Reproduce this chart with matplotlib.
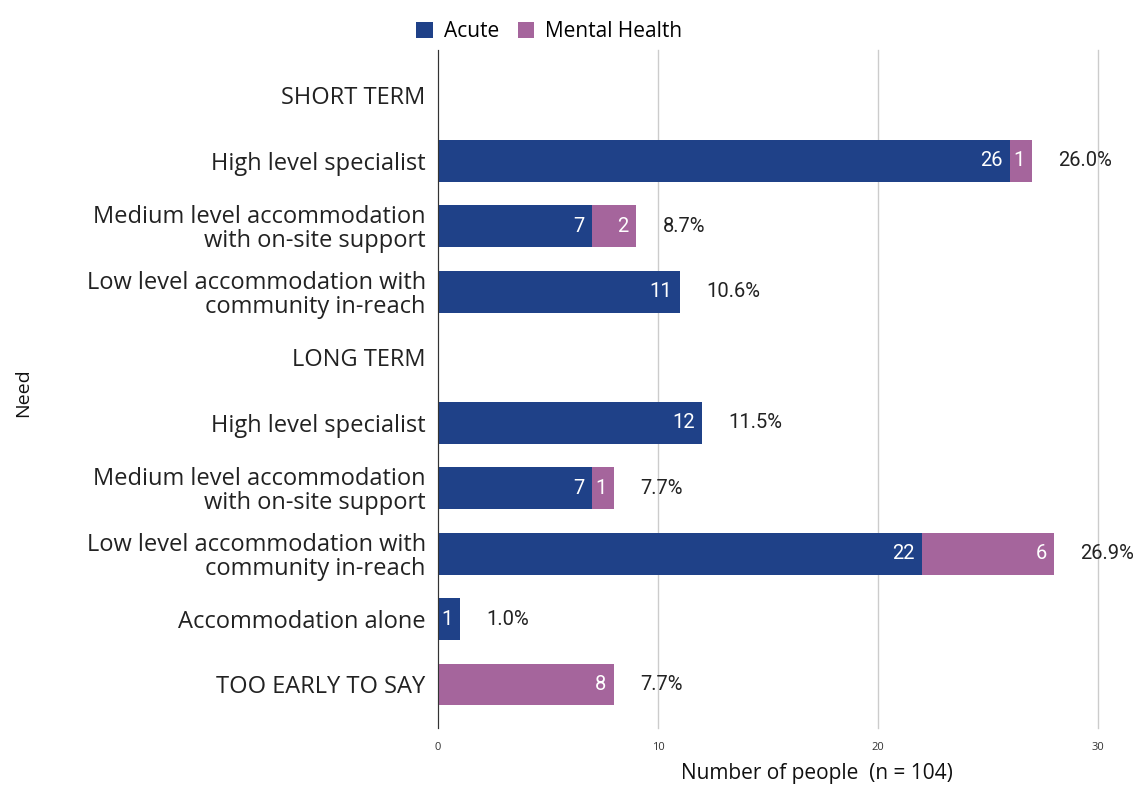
import numpy as np
import matplotlib.pyplot as plt

plt.rcParams['font.family'] = ['Open Sans', 'DejaVu Sans']

categories = ['SHORT TERM', 'High level specialist',
              'Medium level accommodation\nwith on-site support',
              'Low level accommodation with\ncommunity in-reach',
              'LONG TERM', 'High level specialist',
              'Medium level accommodation\nwith on-site support',
              'Low level accommodation with\ncommunity in-reach',
              'Accommodation alone', 'TOO EARLY TO SAY']
acute = [0, 26, 7, 11, 0, 12, 7, 22, 1, 0]
mental = [0, 1, 2, 0, 0, 0, 1, 6, 0, 8]
pct = ['', '26.0%', '8.7%', '10.6%', '', '11.5%', '7.7%', '26.9%', '1.0%', '7.7%']

c_acute = '#1f4188'
c_mh = '#a5659c'

fig = plt.figure(figsize=(11.44, 7.85), dpi=100)
ax = fig.add_axes([0.383, 0.073, 0.577, 0.863])

y = np.arange(len(categories))
acute = np.array(acute)
mental = np.array(mental)
h = 0.64
b1 = ax.barh(y, acute, height=h, color=c_acute, label='Acute', zorder=2)
b2 = ax.barh(y, mental, left=acute, height=h, color=c_mh, label='Mental Health', zorder=2)

for i in range(len(y)):
    if acute[i] > 0:
        ax.text(acute[i] - 0.35, i, str(acute[i]), ha='right', va='center',
                color='white', fontsize=14.5, family=['Roboto', 'DejaVu Sans'])
    if mental[i] > 0:
        ax.text(acute[i] + mental[i] - 0.35, i, str(mental[i]), ha='right', va='center',
                color='white', fontsize=14.5, family=['Roboto', 'DejaVu Sans'])
    if pct[i]:
        ax.annotate(pct[i], (acute[i] + mental[i], i), xytext=(19, 0),
                    textcoords='offset points', ha='left', va='center',
                    fontsize=14.5, color='#222222', family=['Roboto', 'DejaVu Sans'])

ax.set_xlim(0, 30)
ax.set_ylim(9.66, -0.69)
ax.set_yticks(y)
ax.set_yticklabels(categories, fontsize=17, color='#222222', linespacing=1.0)
ax.tick_params(axis='y', length=0, pad=9)
ax.set_xticks([0, 10, 20, 30])
ax.tick_params(axis='x', length=0, labelsize=8, pad=10, labelcolor='#333333')
ax.grid(axis='x', color='#cccccc', linewidth=1, zorder=0)
for gl in ax.get_xgridlines():
    gl.set_clip_on(False)
for s in ['top', 'right', 'bottom']:
    ax.spines[s].set_visible(False)
ax.spines['left'].set_color('#333333')

fig.text(817 / 1144, 1 - 773 / 785, 'Number of people  (n = 104)', ha='center', va='center',
         fontsize=15, color='#111111')
fig.text(0.02, 0.5, 'Need', rotation=90, va='center', ha='center', fontsize=14, color='#111111')

fig.legend(handles=[b1, b2], loc='upper center', bbox_to_anchor=(0.48, 0.997),
           ncol=2, frameon=False, fontsize=15, handlelength=0.8, handleheight=0.8,
           columnspacing=0.9, handletextpad=0.5)

fig.savefig('out.png', dpi=100)
